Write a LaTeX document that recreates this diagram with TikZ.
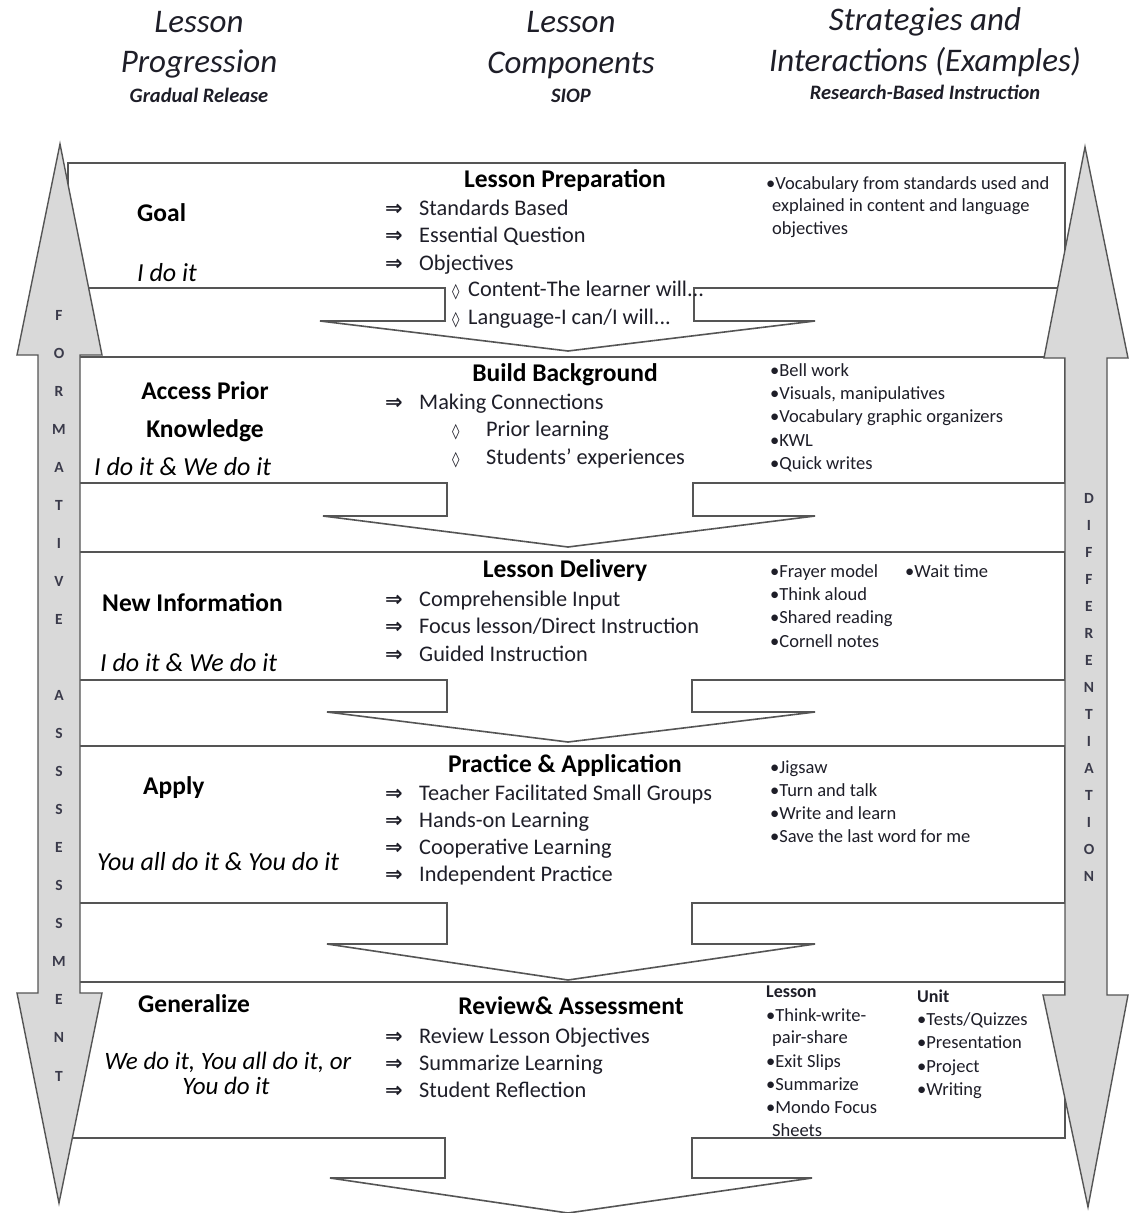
\documentclass[tikz,border=0pt]{standalone}
\usepackage{fontspec}
\setmainfont{Carlito}
\newfontfamily\symf{DejaVu Sans}
\definecolor{boxgray}{HTML}{555555}
\definecolor{arrowfill}{HTML}{D9D9D9}
\definecolor{ltrgray}{HTML}{3A3A4A}
\definecolor{txt}{HTML}{1E1E28}
\newcommand\imp{\makebox[34pt][l]{\symf\bfseries\fontsize{21}{22}\selectfont ⇒}}
\newcommand\dmdA{\makebox[16pt][l]{\symf\fontsize{15}{16}\selectfont ◊}}
\newcommand\dmdB{\makebox[34pt][l]{\symf\fontsize{15}{16}\selectfont ◊}}
\tikzset{
  box/.style={draw=boxgray, line width=1.6pt, fill=white, line join=miter},
  bigarrow/.style={draw=boxgray, fill=arrowfill, line width=1.4pt, line join=miter},
  hdr/.style={font=\fontsize{33}{36}\selectfont\itshape, anchor=base, inner sep=0, text=txt},
  hsub/.style={font=\fontsize{20.5}{22}\selectfont\bfseries\itshape, anchor=base, inner sep=0, text=txt},
  ttl/.style={font=\fontsize{25.5}{28}\selectfont\bfseries, anchor=base, inner sep=0, text=black},
  lab/.style={font=\fontsize{25.5}{28}\selectfont\bfseries, anchor=base west, inner sep=0, text=black},
  labc/.style={font=\fontsize{25.5}{28}\selectfont\bfseries, anchor=base, inner sep=0, text=black},
  itl/.style={font=\fontsize{26}{28}\selectfont\itshape, anchor=base west, inner sep=0, text=black},
  itlc/.style={font=\fontsize{25}{28}\selectfont\itshape, anchor=base, inner sep=0, text=black},
  item/.style={font=\fontsize{22.3}{24}\selectfont, anchor=base west, inner sep=0, text=txt},
  sm/.style={font=\fontsize{18.5}{20}\selectfont, anchor=base west, inner sep=0, text=txt},
  smb/.style={font=\fontsize{18}{20}\selectfont\bfseries, anchor=base west, inner sep=0, text=txt},
  ltr/.style={font=\fontsize{15.5}{16}\selectfont\bfseries, inner sep=0, text=ltrgray},
}
% section shape: #1 top, #2 body bottom, #3 stem bottom, #4 head left, #5 head right, #6 tip y, #7 stem left, #8 stem right
\newcommand\sect[8]{%
  \draw[box] (68,#1) -- (1065,#1) -- (1065,#2) -- (#8,#2) -- (#8,#3) -- (#5,#3)
    -- (568,#6) -- (#4,#3) -- (#7,#3) -- (#7,#2) -- (68,#2) -- cycle;}
\begin{document}
\begin{tikzpicture}[x=1pt,y=-1pt]
\useasboundingbox[fill=white] (0,0) rectangle (1130,1213);

% headers
\node[hdr] (h1a) at (199,32) {Lesson};
\node[hdr] (h1b) at (199,72) {Progression};
\node[hsub] (h1c) at (199,102) {Gradual Release};
\node[hdr] (h2a) at (571,32) {Lesson};
\node[hdr] (h2b) at (571,73) {Components};
\node[hsub] (h2c) at (571,102) {SIOP};
\node[hdr] (h3a) at (925,30) {Strategies and};
\node[hdr] (h3b) at (925,71) {Interactions (Examples)};
\node[hsub] (h3c) at (925,99) {Research-Based Instruction};

% section boxes
\sect{163}{288}{321}{320}{815}{351}{445}{694}
\sect{357}{483}{516}{323}{815}{547}{447}{693}
\sect{552}{680}{712}{327}{815}{742}{447}{692}
\sect{746}{903}{944}{327}{815}{980}{447}{692}
\sect{982}{1138}{1178}{330}{812}{1213}{445}{692}

% big side arrows
\draw[bigarrow] (60,144) -- (102,355) -- (80,355) -- (80,993) -- (102,993) -- (59,1203)
  -- (17,993) -- (38,993) -- (38,355) -- (17,355) -- cycle;
\draw[bigarrow] (1085,147) -- (1128,358) -- (1107,358) -- (1107,995) -- (1128,995) -- (1088,1207)
  -- (1043,995) -- (1065,995) -- (1065,358) -- (1044,358) -- cycle;

\foreach \c [count=\i from 0] in {F,O,R,M,A,T,I,V,E,{},A,S,S,S,E,S,S,M,E,N,T}
  \node[ltr] (fa\i) at (59,315+38.05*\i) {\c};
\foreach \c [count=\i from 0] in {D,I,F,F,E,R,E,N,T,I,A,T,I,O,N}
  \node[ltr] (di\i) at (1089,498+27*\i) {\c};

% Section 1
\node[ttl] (t1) at (565,187) {Lesson Preparation};
\node[lab] (l1a) at (137,221) {Goal};
\node[itl] (l1b) at (137,281) {I do it};
\node[item] (i1a) at (385,215) {\imp Standards Based};
\node[item] (i1b) at (385,242) {\imp Essential Question};
\node[item] (i1c) at (385,270) {\imp Objectives};
\node[item] (i1d) at (452,296) {\dmdA Content-The learner will...};
\node[item] (i1e) at (452,324) {\dmdA Language-I can/I will...};
\node[sm] (r1a) at (766,189) {\textbullet Vocabulary from standards used and};
\node[sm] (r1b) at (772,211) {explained in content and language};
\node[sm] (r1c) at (772,234) {objectives};

% Section 2
\node[ttl] (t2) at (565,381) {Build Background};
\node[labc] (l2a) at (205,399) {Access Prior};
\node[labc] (l2b) at (205,437) {Knowledge};
\node[itl] (l2c) at (94,475) {I do it \& We do it};
\node[item] (i2a) at (385,409) {\imp Making Connections};
\node[item] (i2b) at (452,436) {\dmdB Prior learning};
\node[item] (i2c) at (452,464) {\dmdB Students’ experiences};
\node[sm] (r2a) at (770,376) {\textbullet Bell work};
\node[sm] (r2b) at (770,399) {\textbullet Visuals, manipulatives};
\node[sm] (r2c) at (770,422) {\textbullet Vocabulary graphic organizers};
\node[sm] (r2d) at (770,446) {\textbullet KWL};
\node[sm] (r2e) at (770,469) {\textbullet Quick writes};

% Section 3
\node[ttl] (t3) at (565,577) {Lesson Delivery};
\node[lab] (l3a) at (102,611) {New Information};
\node[itl] (l3b) at (100,671) {I do it \& We do it};
\node[item] (i3a) at (385,606) {\imp Comprehensible Input};
\node[item] (i3b) at (385,633) {\imp Focus lesson/Direct Instruction};
\node[item] (i3c) at (385,661) {\imp Guided Instruction};
\node[sm] (r3a) at (770,577) {\textbullet Frayer model};
\node[sm] (r3b) at (905,577) {\textbullet Wait time};
\node[sm] (r3c) at (770,600) {\textbullet Think aloud};
\node[sm] (r3d) at (770,623) {\textbullet Shared reading};
\node[sm] (r3e) at (770,647) {\textbullet Cornell notes};

% Section 4
\node[ttl] (t4) at (565,772) {Practice \& Application};
\node[lab] (l4a) at (143,794) {Apply};
\node[itl] (l4b) at (97,870) {You all do it \& You do it};
\node[item] (i4a) at (385,800) {\imp Teacher Facilitated Small Groups};
\node[item] (i4b) at (385,827) {\imp Hands-on Learning};
\node[item] (i4c) at (385,854) {\imp Cooperative Learning};
\node[item] (i4d) at (385,881) {\imp Independent Practice};
\node[sm] (r4a) at (770,773) {\textbullet Jigsaw};
\node[sm] (r4b) at (770,796) {\textbullet Turn and talk};
\node[sm] (r4c) at (770,819) {\textbullet Write and learn};
\node[sm] (r4d) at (770,842) {\textbullet Save the last word for me};

% Section 5
\node[ttl] (t5) at (571,1014) {Review\& Assessment};
\node[lab] (l5a) at (138,1012) {Generalize};
\node[itlc] (l5b) at (228,1069) {We do it, You all do it, or};
\node[itlc] (l5c) at (226,1094) {You do it};
\node[item] (i5a) at (385,1043) {\imp Review Lesson Objectives};
\node[item] (i5b) at (385,1070) {\imp Summarize Learning};
\node[item] (i5c) at (385,1097) {\imp Student Reflection};
\node[smb] (r5a) at (766,997) {Lesson};
\node[sm] (r5b) at (766,1021) {\textbullet Think-write-};
\node[sm] (r5c) at (772,1043) {pair-share};
\node[sm] (r5d) at (766,1067) {\textbullet Exit Slips};
\node[sm] (r5e) at (766,1090) {\textbullet Summarize};
\node[sm] (r5f) at (766,1113) {\textbullet Mondo Focus};
\node[sm] (r5g) at (772,1136) {Sheets};
\node[smb] (u5a) at (917,1002) {Unit};
\node[sm] (u5b) at (917,1025) {\textbullet Tests/Quizzes};
\node[sm] (u5c) at (917,1048) {\textbullet Presentation};
\node[sm] (u5d) at (917,1072) {\textbullet Project};
\node[sm] (u5e) at (917,1095) {\textbullet Writing};
\end{tikzpicture}
\end{document}
